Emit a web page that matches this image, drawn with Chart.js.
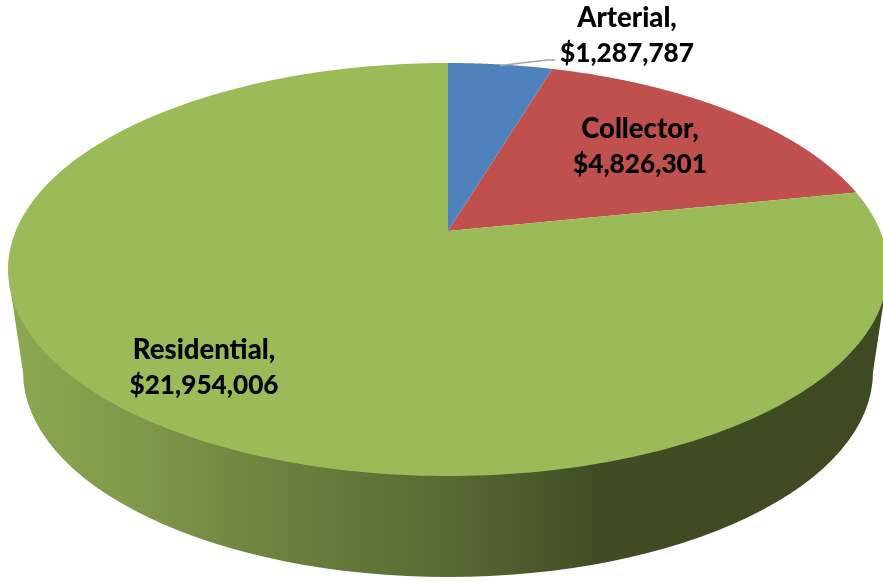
<!DOCTYPE html>
<html>
<head>
<meta charset="utf-8">
<style>html,body{margin:0;padding:0;background:#fff}canvas{display:block}</style>
<script src="https://cdn.jsdelivr.net/npm/chart.js@4/dist/chart.umd.min.js"></script>
</head>
<body>
<canvas id="c" width="883" height="582" style="width:883px;height:582px"></canvas>
<script>
const categories = ["Arterial", "Collector", "Residential"];
const amounts = [1287787, 4826301, 21954006];
const sliceColors = ["#4F81BD", "#C0504D", "#9BBB59"];

// Top face ellipse, the pie apex offset that perspective gives, and the lower rim
const top3d = {cx: 448, cy: 269.5, rx: 440, ry: 206.5, apexY: 231};
const rim3d = {cx: 448, cy: 372, rx: 425, ry: 205};
const labelPlaces = [
  {x: 627, y: 27, leader: [[547, 60], [555, 60]]},
  {x: 640, y: 138},
  {x: 204, y: 359}
];
const lineGap = 35;

const k = (top3d.apexY - top3d.cy) / top3d.ry;
function project(a) {
  // chart.js angle -> perspective point on the top ellipse edge
  const u = Math.cos(a), v = Math.sin(a), d = 1 + k * v;
  return [top3d.cx + top3d.rx * u * Math.sqrt(1 - k * k) / d,
          top3d.cy + top3d.ry * (v + k) / d];
}

const pie3d = {
  id: "pie3d",
  beforeDatasetDraw(chart, args) {
    const ctx = chart.ctx, arcs = chart.getDatasetMeta(args.index).data;
    // side wall
    const g = ctx.createLinearGradient(8, 0, 883, 0);
    [[0, "#8DA852"], [0.16, "#7F9749"], [0.33, "#6A7E3D"], [0.5, "#586A33"],
     [0.675, "#414C24"], [1, "#404A22"]].forEach(s => g.addColorStop(s[0], s[1]));
    ctx.save();
    ctx.beginPath();
    ctx.moveTo(top3d.cx - top3d.rx + 1, top3d.cy + 10);
    ctx.lineTo(rim3d.cx - rim3d.rx, rim3d.cy);
    ctx.ellipse(rim3d.cx, rim3d.cy, rim3d.rx, rim3d.ry, 0, Math.PI, 0, true);
    ctx.lineTo(top3d.cx + top3d.rx - 1, top3d.cy + 10);
    ctx.closePath();
    ctx.fillStyle = g;
    ctx.fill();
    // top face slices, from the angles the library computed
    arcs.forEach((arc, i) => {
      const p = arc.getProps(["startAngle", "endAngle"], true);
      ctx.beginPath();
      ctx.moveTo(top3d.cx, top3d.apexY);
      const n = 240;
      for (let j = 0; j <= n; j++) {
        const q = project(p.startAngle + (p.endAngle - p.startAngle) * j / n);
        ctx.lineTo(q[0], q[1]);
      }
      ctx.closePath();
      ctx.fillStyle = arc.options.backgroundColor;
      ctx.fill();
    });
    ctx.restore();
    return false;
  },
  afterDatasetsDraw(chart) {
    const ctx = chart.ctx, arcs = chart.getDatasetMeta(0).data;
    ctx.save();
    ctx.textAlign = "center";
    ctx.textBaseline = "alphabetic";
    ctx.fillStyle = "#000";
    categories.forEach((name, i) => {
      const place = labelPlaces[i];
      if (place.leader) {
        const p = arcs[i].getProps(["startAngle", "endAngle"], true);
        const s = project((p.startAngle + p.endAngle) / 2);
        ctx.beginPath();
        ctx.moveTo(s[0], s[1] + 1);
        place.leader.forEach(q => ctx.lineTo(q[0], q[1]));
        ctx.strokeStyle = "#A6A6A6";
        ctx.lineWidth = 1.5;
        ctx.stroke();
      }
      ctx.font = "900 27.5px Lato, 'Open Sans', sans-serif";
      ctx.fillText(name + ",", place.x, place.y);
      ctx.font = "900 26.2px Lato, 'Open Sans', sans-serif";
      ctx.fillText("$" + amounts[i].toLocaleString("en-US"), place.x, place.y + lineGap);
    });
    ctx.restore();
  }
};

new Chart(document.getElementById("c"), {
  type: "pie",
  data: {labels: categories, datasets: [{data: amounts, backgroundColor: sliceColors, borderWidth: 0}]},
  options: {
    responsive: false,
    animation: false,
    devicePixelRatio: 1,
    plugins: {legend: {display: false}, tooltip: {enabled: false}, title: {display: false}}
  },
  plugins: [pie3d]
});
</script>
</body>
</html>
